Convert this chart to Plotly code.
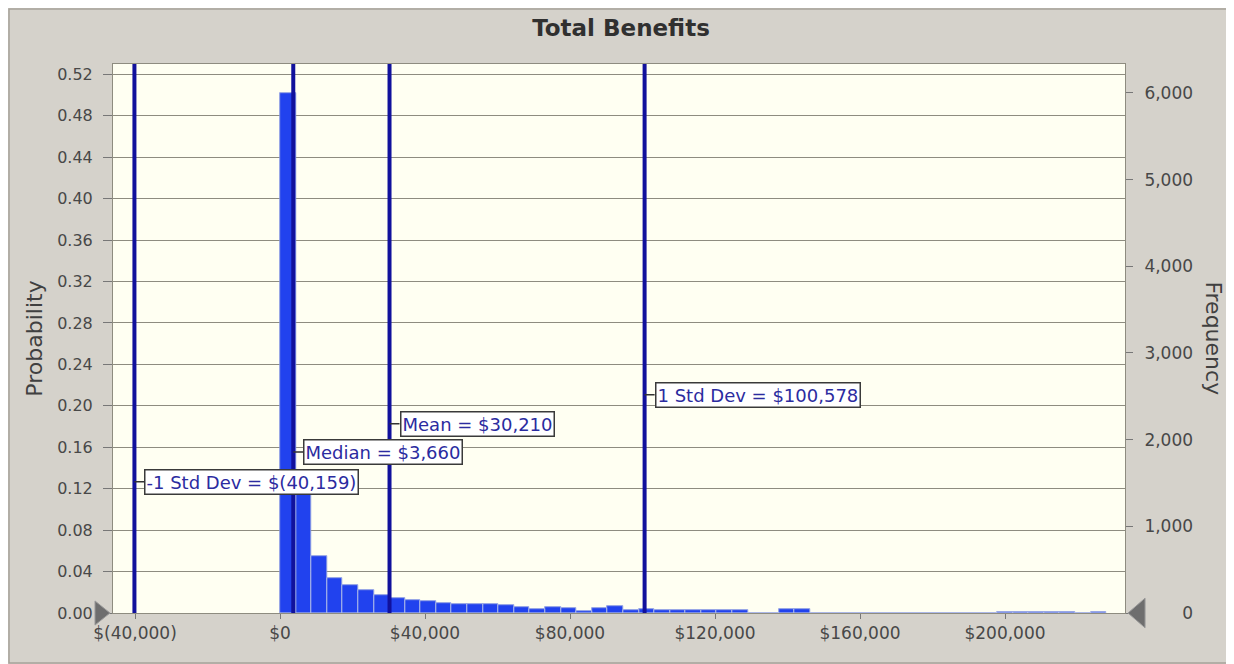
import plotly.graph_objects as go
import numpy as np

# --- data ---
n_trials = 11950
bin_width = 4300
bin_probs = [0.502, 0.135, 0.055, 0.034, 0.027, 0.022, 0.0175, 0.0145, 0.0125, 0.012,
             0.010, 0.0085, 0.0083, 0.0083, 0.008, 0.006, 0.004, 0.006, 0.0045, 0.0015,
             0.0045, 0.0065, 0.003, 0.004, 0.0025, 0.0025, 0.0025, 0.0025, 0.0025, 0.0025,
             0.0, 0.0, 0.004, 0.004, 0.0, 0.0, 0.0, 0.0, 0.0, 0.0,
             0.0, 0.0, 0.0, 0.0, 0.0, 0.0, 0.0008, 0.0008, 0.0008, 0.0008,
             0.0008, 0.0, 0.0008]

stat_values = [-40159, 3660, 30210, 100578]
stat_labels = ["-1 Std Dev = $(40,159)", "Median = $3,660", "Mean = $30,210", "1 Std Dev = $100,578"]
stat_label_y = [0.1266, 0.1555, 0.1826, 0.2106]

x_tickvals = [-40000, 0, 40000, 80000, 120000, 160000, 200000]
x_ticktext = ["$(40,000)", "$0", "$40,000", "$80,000", "$120,000", "$160,000", "$200,000"]
prob_ticks = [round(0.04 * i, 2) for i in range(14)]
freq_ticks = [0, 1000, 2000, 3000, 4000, 5000, 6000]

x_range = [-46070, 233100]
prob_range = [0, 0.53]

FONT = "DejaVu Sans"
bar_color = "#2142EE"
line_color = "#11119C"
text_color = "#2B2BA0"
tick_color = "#484848"

# page body has an 8px margin, so the figure is 8px smaller than the window
W, H = 1226, 656
L, R, T, B = 105, 109, 56, 51
pw, ph = W - L - R, H - T - B

centers = np.arange(len(bin_probs)) * bin_width + bin_width / 2
probs = np.array(bin_probs)

fig = go.Figure()
fig.add_bar(x=centers, y=probs, width=bin_width, marker_color=bar_color,
            marker_line_color="#1A34C8", marker_line_width=0.6, showlegend=False)
# same counts on the frequency axis (invisible, drives the right axis)
fig.add_bar(x=centers, y=probs * n_trials, width=bin_width, yaxis="y2",
            marker_color="rgba(0,0,0,0)", showlegend=False, hoverinfo="skip")

for v, lab, ly in zip(stat_values, stat_labels, stat_label_y):
    fig.add_vline(x=v, line_color=line_color, line_width=4, layer="above")
    fig.add_annotation(x=v, y=ly, xref="x", yref="y", text=lab,
                       showarrow=True, arrowhead=0, arrowwidth=1.5, arrowcolor="#333333",
                       ax=10, ay=0, xanchor="left", standoff=0,
                       bgcolor="#FFFFFF", bordercolor="#3A3A3A", borderwidth=1.5, borderpad=1,
                       font=dict(family=FONT, size=18, color=text_color))

# right axis title reads top-to-bottom
fig.add_annotation(x=(1205 - L) / pw, y=0.5, xref="paper", yref="paper", text="Frequency",
                   showarrow=False, textangle=90, xanchor="center", yanchor="middle",
                   font=dict(family=FONT, size=22, color="#404040"))

# certainty grabbers
fig.add_shape(type="path", xref="paper", yref="paper",
              path="M -0.0178,0.022 L -0.003,0 L -0.0178,-0.022 Z",
              fillcolor="#6E6E6E", line=dict(color="#9A9A9A", width=1))
fig.add_shape(type="path", xref="paper", yref="paper",
              path="M 1.0198,0.027 L 1.003,0 L 1.0198,-0.027 Z",
              fillcolor="#6E6E6E", line=dict(color="#9A9A9A", width=1))
# panel frame
fig.add_shape(type="rect", xref="paper", yref="paper",
              x0=-(L - 1) / pw, x1=(pw + R - 1) / pw, y0=-(B - 1) / ph, y1=(ph + T - 1) / ph,
              line=dict(color="#A6A29A", width=1.5), fillcolor="rgba(0,0,0,0)", layer="below")

fig.update_layout(
    width=W, height=H,
    title=dict(text="<b>Total Benefits</b>", x=0.5, xanchor="center", y=1 - 20 / H, yanchor="middle",
               font=dict(family=FONT, size=23, color="#303030")),
    margin=dict(l=L, r=R, t=T, b=B),
    paper_bgcolor="#D5D2CB", plot_bgcolor="#FFFFF2",
    bargap=0, barmode="overlay",
    font=dict(family=FONT, size=16, color=tick_color),
    xaxis=dict(range=x_range, tickvals=x_tickvals, ticktext=x_ticktext, showgrid=False,
               zeroline=False, ticks="outside", ticklen=5, tickcolor="#777777",
               showline=True, linecolor="#8E8C80", mirror=True,
               tickfont=dict(family=FONT, size=17, color=tick_color)),
    yaxis=dict(range=prob_range, tickvals=prob_ticks, tickformat=".2f", showgrid=True,
               gridcolor="#8E8C80", gridwidth=1, zeroline=False, ticks="outside", ticklen=9,
               tickcolor="#777777", showline=True, linecolor="#8E8C80", mirror=True,
               ticklabelstandoff=7,
               tickfont=dict(family=FONT, size=16, color=tick_color),
               title=dict(text="Probability", standoff=8, font=dict(family=FONT, size=22, color="#404040"))),
    yaxis2=dict(range=[0, prob_range[1] * n_trials], overlaying="y", side="right",
                tickvals=freq_ticks,
                ticktext=["\u2007\u2007\u2007\u20080" if t == 0 else f"{t:,}" for t in freq_ticks],
                showgrid=False, zeroline=False, ticks="outside", ticklen=7, tickcolor="#777777",
                ticklabelstandoff=8,
                tickfont=dict(family=FONT, size=17, color=tick_color)),
)

fig.write_html("out.html")
